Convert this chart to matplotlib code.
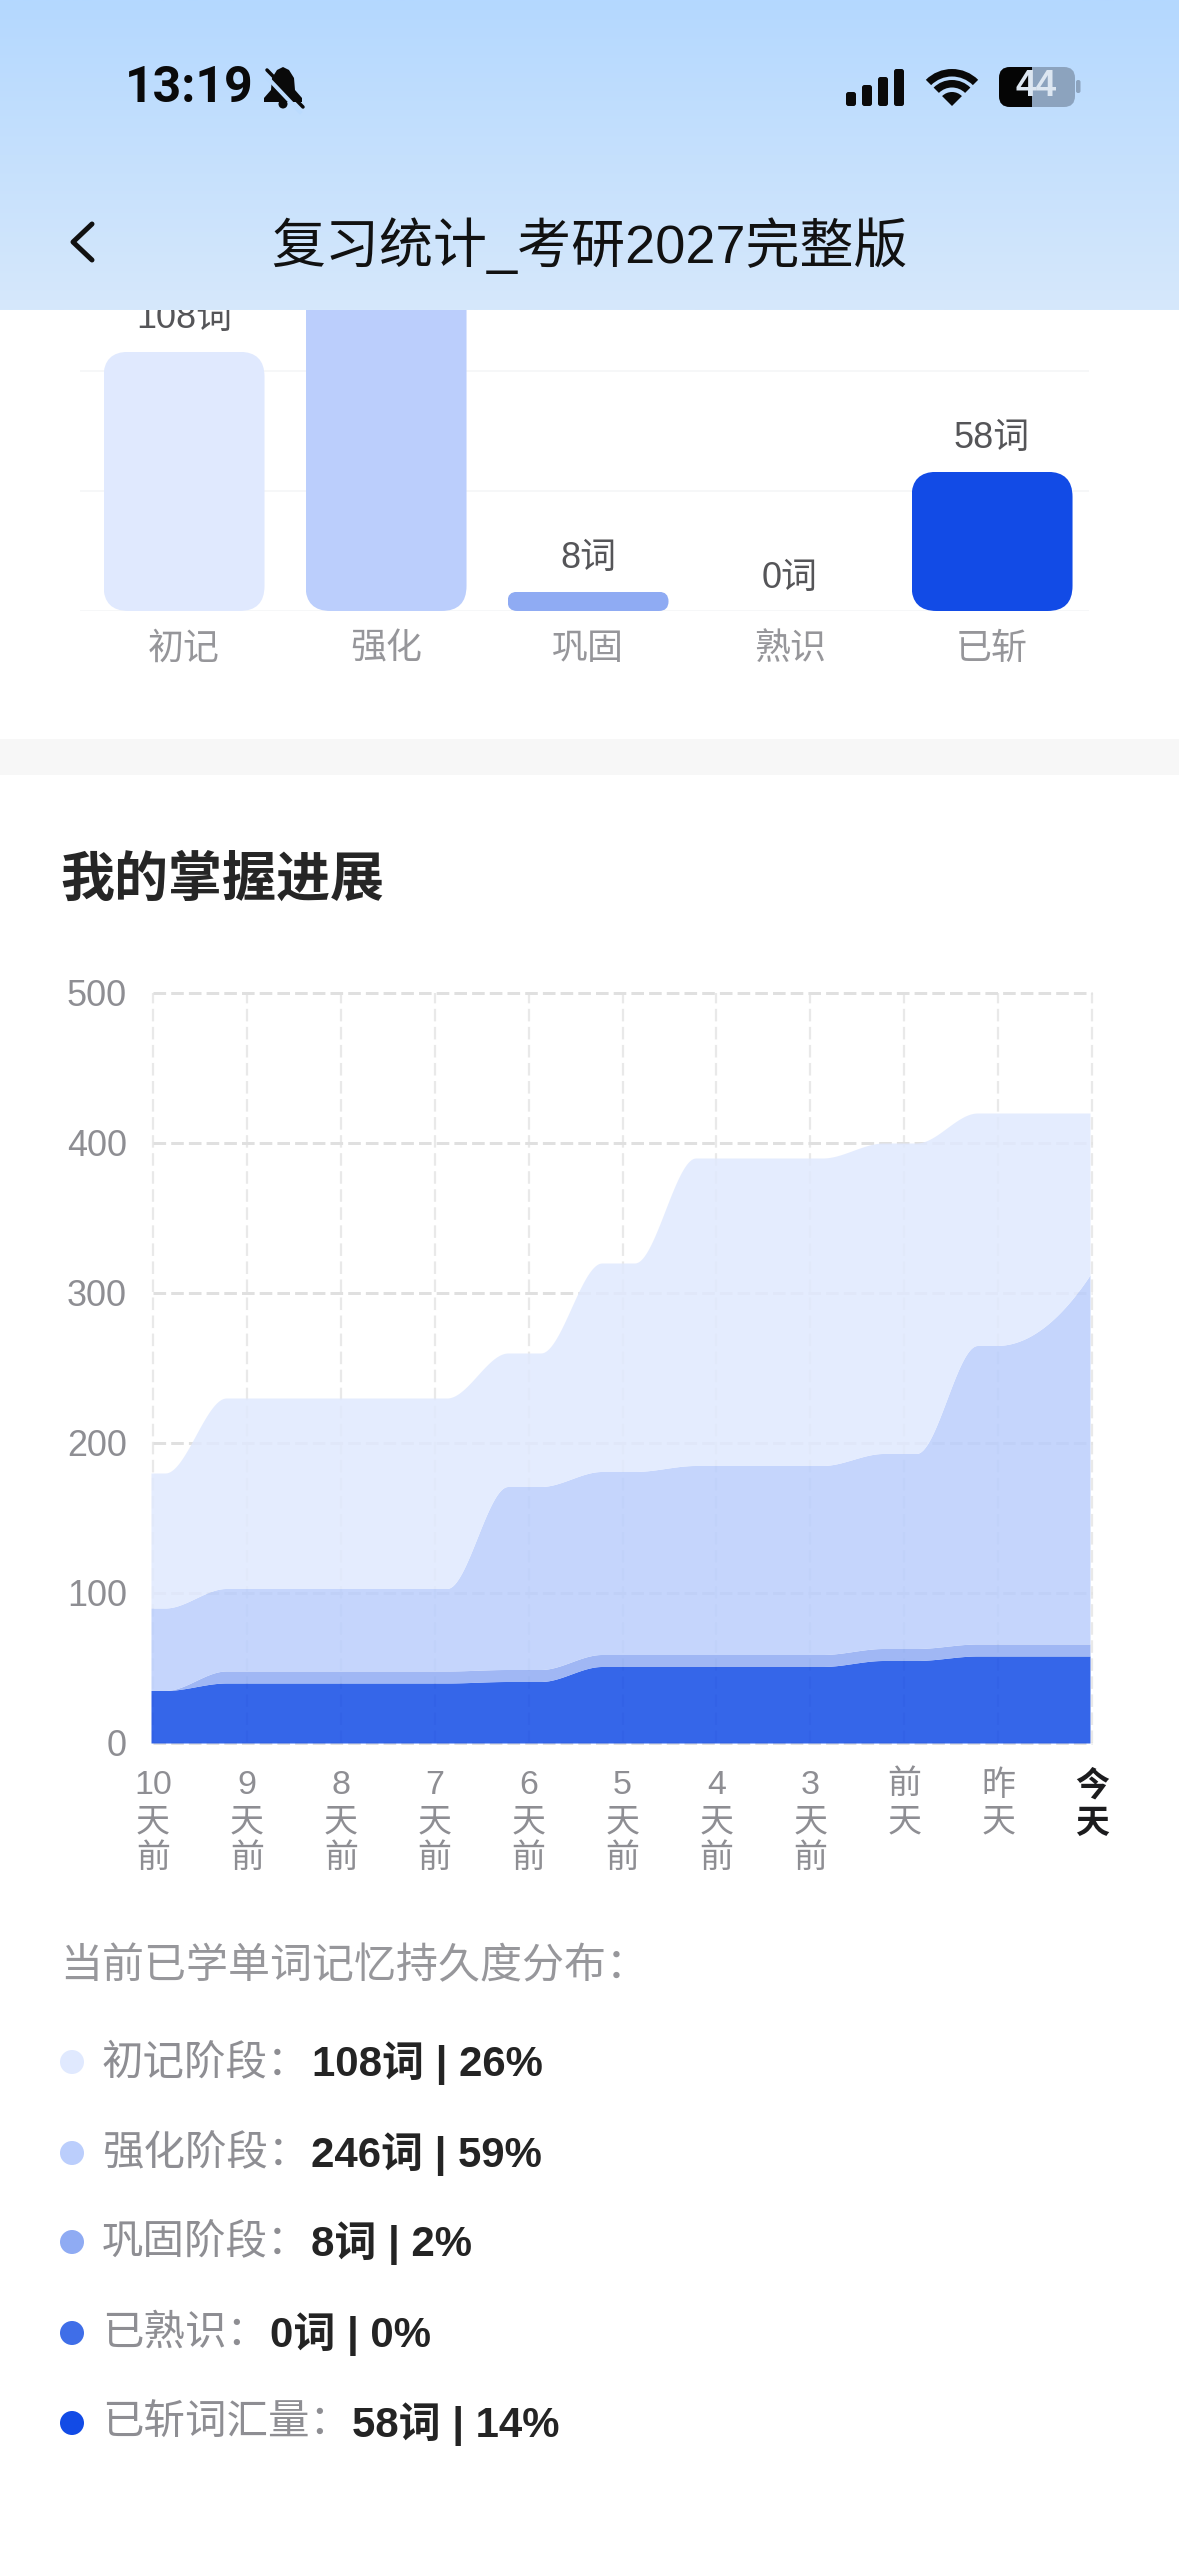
import numpy as np
import matplotlib
matplotlib.use("Agg")
import matplotlib.pyplot as plt
from matplotlib.patches import FancyBboxPatch, Rectangle, Wedge, Polygon, Circle
from matplotlib.transforms import Affine2D

plt.rcParams['font.family'] = ['Liberation Sans', 'Noto Sans CJK SC', 'DejaVu Sans']

# ---------- data ----------
stage_names = ['初记', '强化', '巩固', '熟识', '已斩']
stage_counts = [108, 246, 8, 0, 58]
stage_colors = ['#E0E9FE', '#BBCEFC', '#8FABF3', '#3F6EE8', '#124BE6']

days = ['10\n天\n前', '9\n天\n前', '8\n天\n前', '7\n天\n前', '6\n天\n前', '5\n天\n前',
        '4\n天\n前', '3\n天\n前', '前\n天', '昨\n天', '今\n天']
slain        = [35, 40, 40, 40, 41, 51, 51, 51, 55, 58, 58]
familiar     = [0, 0, 0, 0, 0, 0, 0, 0, 0, 0, 0]
consolidated = [0, 8, 8, 8, 8, 8, 8, 8, 8, 8, 8]
intensified  = [55, 55, 55, 55, 122, 122, 126, 126, 130, 199, 246]
initial      = [90, 127, 127, 127, 89, 139, 205, 205, 207, 155, 108]

y_ticks = [0, 100, 200, 300, 400, 500]

legend_labels = ['初记阶段：', '强化阶段：', '巩固阶段：', '已熟识：', '已斩词汇量：']
legend_values = ['108词 | 26%', '246词 | 59%', '8词 | 2%', '0词 | 0%', '58词 | 14%']

W, H = 1179, 2556
fig = plt.figure(figsize=(W / 100, H / 100), dpi=100, facecolor='white')
PT = 72 / 100


def axes_px(x0, y0, x1, y1, **kw):
    return fig.add_axes([x0 / W, 1 - y1 / H, (x1 - x0) / W, (y1 - y0) / H], **kw)


def smooth(x, y, n=60, a=0.15, b=0.8):
    """Stepped smooth rendering of a series: flat at each day, eased in between."""
    x = np.asarray(x, float)
    y = np.asarray(y, float)
    xs, ys = [], []
    for i in range(len(x) - 1):
        t = np.linspace(0, 1, n, endpoint=False)
        if i == len(x) - 2:
            s = t ** 2
        else:
            u = np.clip((t - a) / (b - a), 0, 1)
            s = u * u * (3 - 2 * u)
        xs.append(x[i] + t * (x[i + 1] - x[i]))
        ys.append(y[i] + s * (y[i + 1] - y[i]))
    xs.append([x[-1]])
    ys.append([y[-1]])
    return np.concatenate(xs), np.concatenate(ys)


# ---------- base page ----------
page = axes_px(0, 0, W, H)
page.set_xlim(0, W)
page.set_ylim(H, 0)
page.axis('off')
page.add_patch(Rectangle((0, 739), W, 36, fc='#F7F7F7', ec='none'))
page.text(60, 881, '我的掌握进展', fontsize=54 * PT, fontweight='bold', color='#262626',
          va='center', ha='left')
page.text(60, 1967, '当前已学单词记忆持久度分布：', fontsize=42 * PT, color='#97979B',
          va='center', ha='left')

row_y = [2062, 2153, 2242, 2333, 2423]
val_x = [312, 311, 311, 270, 352]
for k in range(5):
    page.add_patch(Circle((72, row_y[k]), 12, fc=stage_colors[k], ec='none'))
    page.text(102, row_y[k] + 1, legend_labels[k], fontsize=41.5 * PT, color='#8E8E93',
              va='center', ha='left')
    page.text(val_x[k], row_y[k] + 1, legend_values[k], fontsize=42 * PT, color='#242424',
              fontweight='bold', va='center', ha='left')

# ---------- bar chart ----------
ax1 = axes_px(80, 35, 1089, 611)
ax1.patch.set_visible(False)
x1 = np.arange(len(stage_names))
bars = ax1.bar(x1, stage_counts, width=0.797, color=stage_colors, zorder=3)
ax1.set_xlim(-0.515, 4.48)
ax1.set_ylim(0, 240)
ax1.set_yticks(range(0, 201, 50))
ax1.tick_params(axis='y', left=False, labelleft=False)
ax1.set_xticks(x1, stage_names)
ax1.tick_params(axis='x', bottom=False, labelsize=36 * PT, labelcolor='#96969A', pad=16 * PT)
ax1.grid(axis='y', color='#F6F7F8', lw=2 * PT, zorder=0)
ax1.set_axisbelow(True)
for s in ax1.spines.values():
    s.set_visible(False)
px_x = 1009 / (4.48 + 0.515)
px_y = 576 / 240
for b, v in zip(bars, stage_counts):
    if v == 0:
        continue
    rx = min(25 / px_x, b.get_height() * px_y / 2 / px_x)
    clip = FancyBboxPatch((b.get_x(), 0), b.get_width(), b.get_height(),
                          boxstyle=f'round,pad=0,rounding_size={rx}',
                          mutation_aspect=px_x / px_y, transform=ax1.transData,
                          fc='none', ec='none')
    ax1.add_patch(clip)
    b.set_clip_path(clip)
for x, v in zip(x1, stage_counts):
    ax1.annotate(f'{v}词', (x, v), xytext=(0, 33 * PT), textcoords='offset points',
                 ha='center', va='center', fontsize=36 * PT, color='#555558',
                 annotation_clip=True)

# ---------- stacked area chart ----------
ax2 = axes_px(153, 993, 1092, 1743)
ax2.patch.set_visible(False)
xd = np.arange(len(days))
layers = [slain, familiar, consolidated, intensified, initial]
layer_colors = [stage_colors[4], stage_colors[3], stage_colors[2], stage_colors[1], stage_colors[0]]
shift = ax2.transData + Affine2D().translate(-2, 0)
lower = np.zeros(len(days))
low_s = None
for vals, c in zip(layers, layer_colors):
    upper = lower + np.asarray(vals)
    xs, ys = smooth(xd, upper)
    if low_s is None:
        low_s = np.zeros_like(ys)
    ax2.fill_between(xs, low_s, ys, color=c, alpha=0.85, lw=0, zorder=3, transform=shift,
                     clip_on=False)
    lower = upper
    low_s = ys
ax2.set_xlim(0, 10)
ax2.set_ylim(0, 500)
ax2.set_yticks(y_ticks)
ax2.set_xticks(xd, days)
ax2.tick_params(axis='y', length=0, labelsize=36 * PT, labelcolor='#8E8E93', pad=26 * PT)
ax2.tick_params(axis='x', length=0, labelsize=34 * PT, labelcolor='#8E8E93', pad=27 * PT)
for lab in ax2.get_xticklabels():
    lab.set_linespacing(1.25)
    lab.set_va('top')
last = ax2.get_xticklabels()[-1]
last.set_color('#1C1C1E')
last.set_fontweight('bold')
ax2.grid(axis='y', color='#E0E0E0', lw=3 * PT, ls=(0, (4.2, 1.7)), zorder=1)
ax2.grid(axis='x', color='#E9E9E9', lw=2.2 * PT, ls=(0, (5.7, 2.5)), zorder=1)
ax2.set_axisbelow(True)
for ln in ax2.get_xgridlines() + ax2.get_ygridlines():
    ln.set_clip_on(False)
for s in ax2.spines.values():
    s.set_visible(False)

# ---------- header overlay ----------
top = axes_px(0, 0, W, H, zorder=20)
top.patch.set_visible(False)
grad = np.linspace(0, 1, 256)[:, None, None]
c0 = np.array([0xB4, 0xD8, 0xFF]) / 255
c1 = np.array([0xD6, 0xE8, 0xFB]) / 255
top.imshow(c0 + (c1 - c0) * grad, extent=(0, W, 310, 0), aspect='auto', zorder=1)
top.set_xlim(0, W)
top.set_ylim(H, 0)
top.axis('off')
INK = '#0A0A0A'
top.text(125, 88, '13:19', family=['Roboto'], fontsize=50 * PT, fontweight='bold', color=INK,
         va='center', ha='left', zorder=3)
top.text(589, 246, '复习统计_考研2027完整版', fontsize=54 * PT, color='#111111', va='center', ha='center', zorder=3)
# back chevron
top.plot([92, 73, 92], [224, 242, 260], color='#111111', lw=5 * PT, solid_capstyle='round',
         solid_joinstyle='round', zorder=3)
# muted bell
top.add_patch(Polygon([(283, 67), (277, 70), (272, 78), (271, 90), (264, 98), (264, 102),
                       (302, 102), (302, 98), (295, 90), (294, 78), (289, 70)],
                      fc=INK, ec='none', zorder=3))
top.add_patch(Circle((283, 104), 4.5, fc=INK, ec='none', zorder=3))
top.plot([264, 300], [74, 112], color='#BBDBFE', lw=4 * PT, zorder=4)
top.plot([267, 303], [70, 107], color=INK, lw=3.5 * PT, solid_capstyle='round', zorder=5)
# signal
for bx, bh in zip([851, 867, 883, 899], [14, 21, 29, 37]):
    top.add_patch(FancyBboxPatch((bx - 5, 106 - bh), 10, bh, boxstyle='round,pad=0,rounding_size=2.5',
                                 fc=INK, ec='none', zorder=3))
# wifi
top.add_patch(Wedge((952, 106), 14, 225, 315, fc=INK, ec='none', zorder=3))
top.add_patch(Wedge((952, 106), 26, 225, 315, width=7.5, fc=INK, ec='none', zorder=3))
top.add_patch(Wedge((952, 106), 37, 225, 315, width=7.5, fc=INK, ec='none', zorder=3))
# battery
top.add_patch(FancyBboxPatch((999, 67), 76, 40, boxstyle='round,pad=0,rounding_size=11',
                             fc='#8CA3BE', ec='none', zorder=3))
body = FancyBboxPatch((999, 67), 76, 40, boxstyle='round,pad=0,rounding_size=11',
                      fc='none', ec='none', zorder=3)
top.add_patch(body)
left = Rectangle((999, 67), 33, 40, fc='#050505', ec='none', zorder=3)
top.add_patch(left)
left.set_clip_path(body)
top.add_patch(FancyBboxPatch((1076, 80), 4.5, 13, boxstyle='round,pad=0,rounding_size=2',
                             fc='#8CA3BE', ec='none', zorder=3))
top.text(1036, 87, '44', fontsize=37 * PT, fontweight='bold', color='#DCE6F1', va='center', ha='center', zorder=4)

fig.savefig('out.png', dpi=100, facecolor='white')
